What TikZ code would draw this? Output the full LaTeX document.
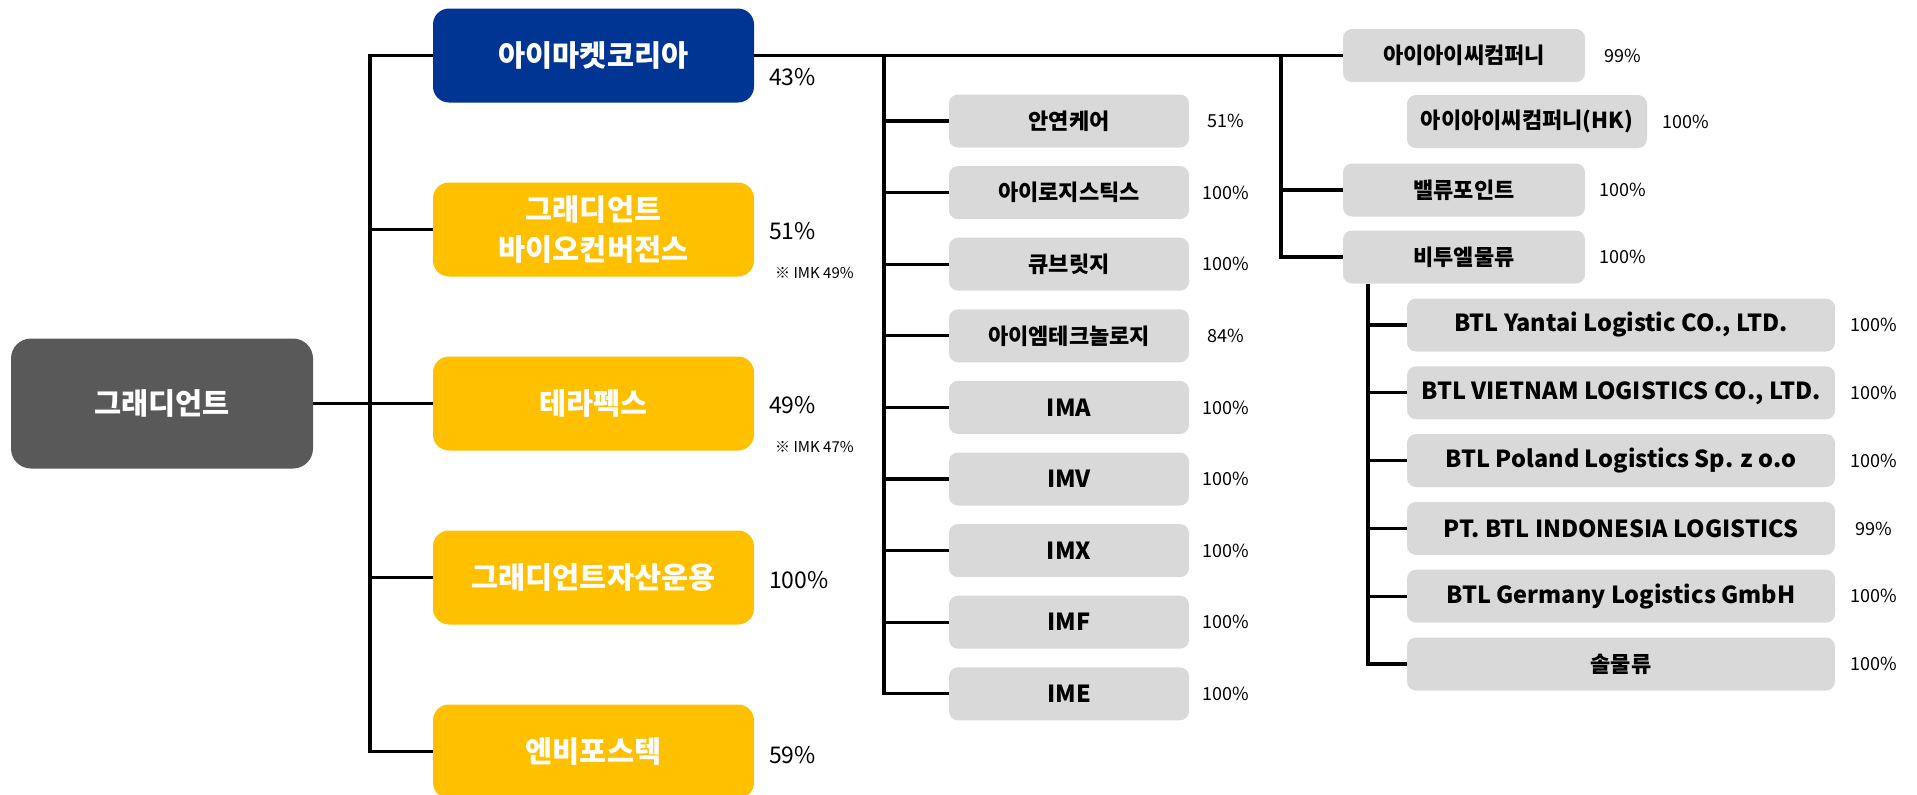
\documentclass[tikz,border=0pt]{standalone}
\usepackage{fontspec}
\setmainfont{Noto Sans CJK KR}
\usetikzlibrary{positioning}
\definecolor{imkblue}{HTML}{003594}
\definecolor{gdyellow}{HTML}{FFC000}
\definecolor{gdgray}{HTML}{595959}
\definecolor{subgray}{HTML}{D9D9D9}
\begin{document}
\begin{tikzpicture}[x=1pt,y=-1pt,
    bigbox/.style={rounded corners=16pt,fill=#1,text=white,font=\fontsize{29.5}{40}\selectfont\bfseries,
      align=center,minimum width=321pt,minimum height=94pt,inner sep=0pt},
    bigbox/.default=gdyellow,
    subbox/.style={rounded corners=9pt,fill=subgray,text=black,font=\fontsize{22}{26}\selectfont\bfseries,
      minimum width=#1,minimum height=53pt,inner sep=0pt},
    subbox/.default=240pt,
    latin/.style={font=\fontsize{23.5}{26}\selectfont\bfseries},
    bigpct/.style={font=\fontsize{23}{26}\selectfont,anchor=west,inner sep=0pt},
    pct/.style={font=\fontsize{18}{22}\selectfont,inner sep=0pt},
    note/.style={font=\fontsize{15}{17}\selectfont,anchor=west,inner sep=0pt},
    link/.style={line width=3.2pt}]
  \clip (0,0) rectangle (1917,795);

  % holding company
  \path (162,403.5) node[bigbox=gdgray,minimum width=302pt,minimum height=130pt,rounded corners=20pt,
    font=\fontsize{29.5}{32}\selectfont\bfseries] (R) {그래디언트};

  % first level
  \begin{scope}[node distance=174pt]
    \path (593.5,55.5) node[bigbox=imkblue] (K) {아이마켓코리아};
    \path node[bigbox,below of=K] (B) {그래디언트\\바이오컨버전스};
    \path node[bigbox,below of=B] (T) {테라펙스};
    \path node[bigbox,below of=T] (G) {그래디언트자산운용};
    \path node[bigbox,below of=G] (N) {엔비포스텍};
  \end{scope}
  \path (769,77) node[bigpct] (pK) {43\%};
  \path (769,231) node[bigpct] (pB) {51\%};
  \path (775,273) node[note] (nB) {※ IMK 49\%};
  \path (769,405) node[bigpct] (pT) {49\%};
  \path (775,447) node[note] (nT) {※ IMK 47\%};
  \path (769,580) node[bigpct] (pG) {100\%};
  \path (769,755) node[bigpct] (pN) {59\%};

  % imk subsidiaries
  \begin{scope}[node distance=71.6pt]
    \path (1069,121) node[subbox] (A1) {안연케어};
    \path node[subbox,below of=A1] (A2) {아이로지스틱스};
    \path node[subbox,below of=A2] (A3) {큐브릿지};
    \path node[subbox,below of=A3] (A4) {아이엠테크놀로지};
    \path node[subbox,latin,below of=A4] (A5) {IMA};
    \path node[subbox,latin,below of=A5] (A6) {IMV};
    \path node[subbox,latin,below of=A6] (A7) {IMX};
    \path node[subbox,latin,below of=A7] (A8) {IMF};
    \path node[subbox,latin,below of=A8] (A9) {IME};
  \end{scope}
  \path ([xshift=157pt]A1) node[pct] (pA1) {51\%};
  \path ([xshift=157pt]A2) node[pct] (pA2) {100\%};
  \path ([xshift=157pt]A3) node[pct] (pA3) {100\%};
  \path ([xshift=157pt]A4) node[pct] (pA4) {84\%};
  \path ([xshift=157pt]A5) node[pct] (pA5) {100\%};
  \path ([xshift=157pt]A6) node[pct] (pA6) {100\%};
  \path ([xshift=157pt]A7) node[pct] (pA7) {100\%};
  \path ([xshift=157pt]A8) node[pct] (pA8) {100\%};
  \path ([xshift=157pt]A9) node[pct] (pA9) {100\%};

  \path (1464,55.5) node[subbox=242pt] (I1) {아이아이씨컴퍼니};
  \path (1527,121.5) node[subbox] (I2) {아이아이씨컴퍼니(HK)};
  \path (1464,190) node[subbox=242pt] (V) {밸류포인트};
  \path (1464,257) node[subbox=242pt] (L) {비투엘물류};
  \path ([xshift=159pt]I1) node[pct] (pI1) {99\%};
  \path ([xshift=159pt]I2) node[pct] (pI2) {100\%};
  \path ([xshift=159pt]V) node[pct] (pV) {100\%};
  \path ([xshift=159pt]L) node[pct] (pL) {100\%};

  % btl subsidiaries
  \begin{scope}[node distance=67.8pt]
    \path (1621,325) node[subbox=428pt,latin] (E1) {BTL Yantai Logistic CO., LTD.};
    \path node[subbox=428pt,latin,below of=E1] (E2) {BTL VIETNAM LOGISTICS CO., LTD.};
    \path node[subbox=428pt,latin,below of=E2] (E3) {BTL Poland Logistics Sp. z o.o};
    \path node[subbox=428pt,latin,below of=E3] (E4) {PT. BTL INDONESIA LOGISTICS};
    \path node[subbox=428pt,latin,below of=E4] (E5) {BTL Germany Logistics GmbH};
    \path node[subbox=428pt,below of=E5] (E6) {솔물류};
  \end{scope}
  \path ([xshift=252.5pt]E1) node[pct] (pE1) {100\%};
  \path ([xshift=252.5pt]E2) node[pct] (pE2) {100\%};
  \path ([xshift=252.5pt]E3) node[pct] (pE3) {100\%};
  \path ([xshift=252.5pt]E4) node[pct] (pE4) {99\%};
  \path ([xshift=252.5pt]E5) node[pct] (pE5) {100\%};
  \path ([xshift=252.5pt]E6) node[pct] (pE6) {100\%};

  % connectors
  \coordinate (s1) at (370,0);
  \coordinate (s2) at (884,0);
  \coordinate (s3) at (1281,0);
  \coordinate (s4) at (1368,0);
  \draw[link] (R.east) -- (T.west);
  \draw[link] (K.west) -- (s1 |- K) -- (s1 |- N) -- (N.west);
  \draw[link] (s1 |- B) -- (B.west) (s1 |- G) -- (G.west);
  \draw[link] (K.east) -- (I1.west);
  \draw[link] (s2 |- K) -- (s2 |- A9) -- (A9.west);
  \draw[link] (s2 |- A1) -- (A1.west) (s2 |- A2) -- (A2.west) (s2 |- A3) -- (A3.west)
    (s2 |- A4) -- (A4.west) (s2 |- A5) -- (A5.west) (s2 |- A6) -- (A6.west)
    (s2 |- A7) -- (A7.west) (s2 |- A8) -- (A8.west);
  \draw[link] (s3 |- I1) -- (s3 |- L) -- (L.west);
  \draw[link] (s3 |- V) -- (V.west);
  \draw[link] (s4 |- L.south) -- (s4 |- E6) -- (E6.west);
  \draw[link] (s4 |- E1) -- (E1.west) (s4 |- E2) -- (E2.west) (s4 |- E3) -- (E3.west)
    (s4 |- E4) -- (E4.west) (s4 |- E5) -- (E5.west);
\end{tikzpicture}
\end{document}
